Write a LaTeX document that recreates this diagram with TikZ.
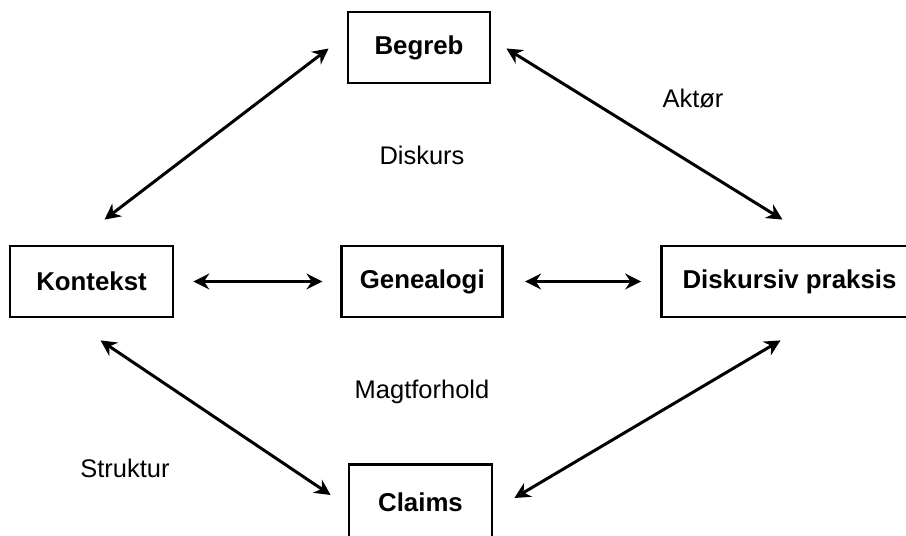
\documentclass[tikz,border=0pt]{standalone}
\usepackage{fontspec}
\setmainfont{Liberation Sans}
\usepackage{tikz}
\usetikzlibrary{arrows.meta, positioning}
\tikzset{
  concept/.style={
    rectangle, draw=black, line width=1.6pt,
    fill=white, inner sep=0pt,
    minimum height=1.42cm,
    align=center, font=\fontsize{14.7}{17}\selectfont\bfseries
  },
  relation/.style={
    font=\fontsize{14.5}{17}\selectfont
  },
  arrow/.style={{Stealth[length=9pt,width=9pt]}-{Stealth[length=9pt,width=9pt]}, line width=1.7pt, draw=black}
}
\begin{document}
\begin{tikzpicture}[x=0.02cm, y=-0.02cm]
\useasboundingbox (0,0) rectangle (906,536);

% Middle row
\node[concept, minimum width=3.26cm] (kontekst) at (91.5,281.5) {Kontekst};
\node[concept, minimum width=3.22cm, right=3.32cm of kontekst] (genealogi) {Genealogi};
\node[concept, minimum width=5.12cm, right=3.12cm of genealogi] (diskursiv) {Diskursiv praksis};

% Top and bottom
\node[concept, minimum width=2.84cm] (begreb) at (419,47.5) {Begreb};
\node[concept, minimum width=2.86cm, minimum height=1.5cm] (claims) at (420.5,502) {Claims};

% Relation labels
\node[relation] (diskurs) at (422,155) {Diskurs};
\node[relation] (aktoer) at (693,99) {Aktør};
\node[relation] (magt) at (422,392) {Magtforhold};
\node[relation] (struktur) at (125,468) {Struktur};

% Arrows
\draw[arrow, shorten <=0.38cm, shorten >=0.36cm] (kontekst) -- (genealogi);
\draw[arrow, shorten <=0.42cm, shorten >=0.38cm] (genealogi) -- (diskursiv);
\draw[arrow] ([shift={(-18,1)}]begreb.west) -- ([shift={(13,-25)}]kontekst.north);
\draw[arrow] ([shift={(15,1)}]begreb.east) -- ([shift={(-7,-25)}]diskursiv.north);
\draw[arrow] ([shift={(9,22)}]kontekst.south) -- ([shift={(-17,-7)}]claims.west);
\draw[arrow] ([shift={(-9,22)}]diskursiv.south) -- ([shift={(21,-4)}]claims.east);

\end{tikzpicture}
\end{document}
